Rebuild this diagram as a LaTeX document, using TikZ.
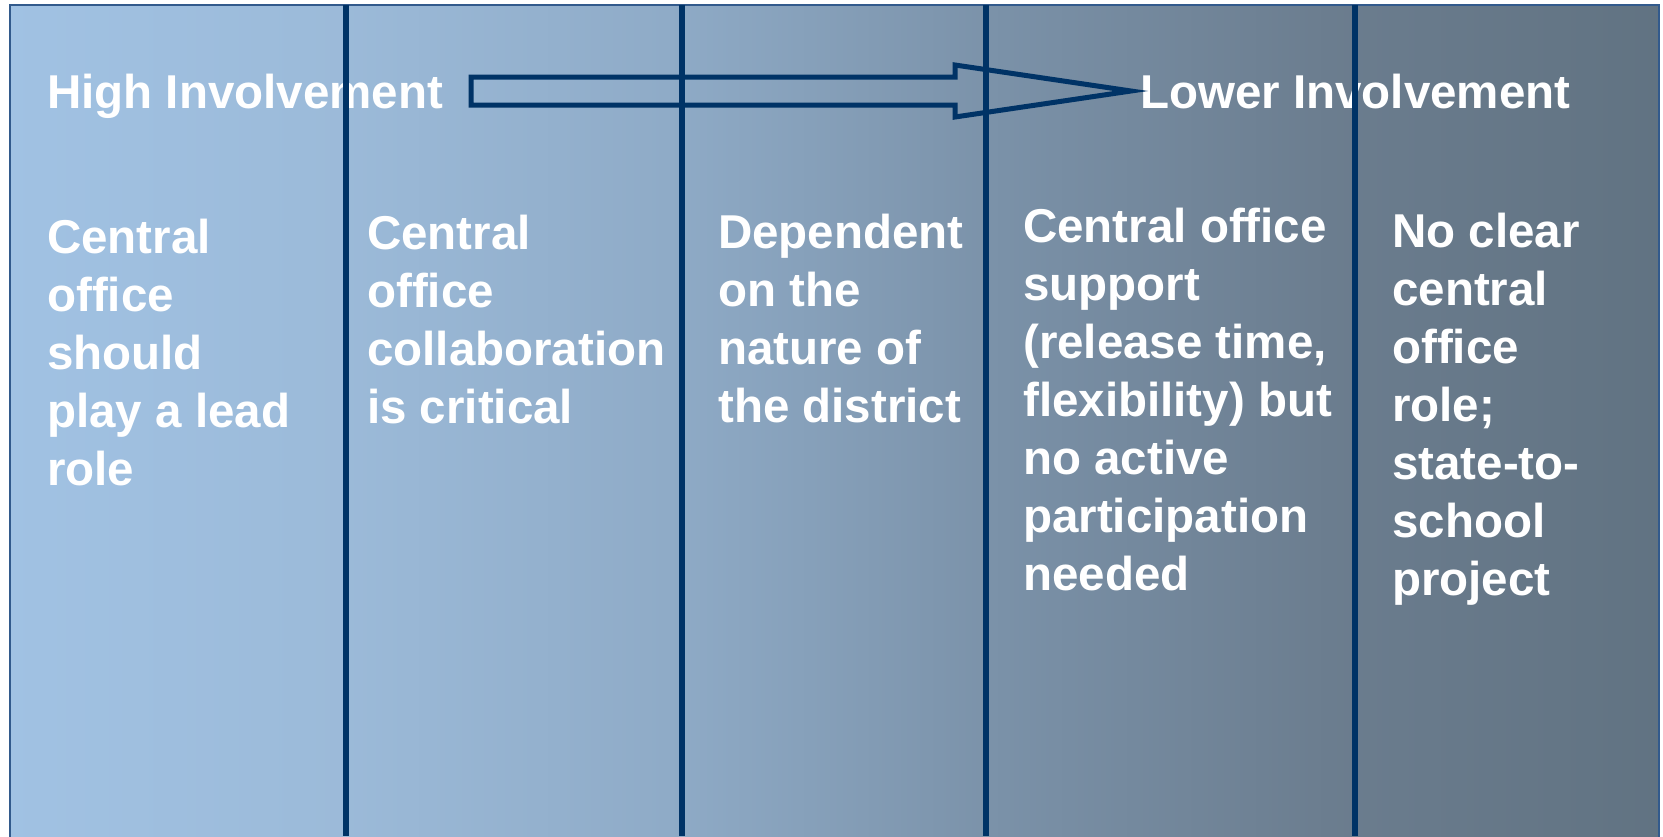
\documentclass[tikz,border=0pt]{standalone}
\usepackage{fontspec}
\setmainfont{Liberation Sans}
\definecolor{navy}{RGB}{0,51,102}
\definecolor{frame}{RGB}{50,90,140}
\pgfdeclarehorizontalshading{panelbg}{100bp}{rgb(0bp)=(0.63,0.76,0.89); rgb(25bp)=(0.63,0.76,0.89); rgb(35bp)=(0.61,0.73,0.85); rgb(45bp)=(0.56,0.67,0.78); rgb(55bp)=(0.48,0.57,0.66); rgb(65bp)=(0.42,0.49,0.56); rgb(75bp)=(0.38,0.45,0.51); rgb(100bp)=(0.38,0.45,0.51)}
\tikzset{
  coltext/.style={anchor=base west, inner sep=0pt, align=left, text=white,
    font=\fontsize{47.5}{58}\selectfont\bfseries},
  divider/.style={draw=navy, line width=6pt},
  bigarrow/.style={draw=navy, line width=5pt, line join=miter},
}
\begin{document}
\begin{tikzpicture}[x=1pt,y=-1pt]
\useasboundingbox (0,0) rectangle (1663,836);
\begin{scope}
\clip (0,0) rectangle (1663,836);
\shade[shading=panelbg] (10,5) rectangle (1659,846);
\draw[frame, line width=2pt] (10,5) rectangle (1659,846);
\end{scope}
% headings
\node[coltext] (high) at (47,108) {High Involvement};
\node[coltext] (low) at (1140,108) {Lower Involvement};
% columns (anchor = baseline of the last line)
\node[coltext] (c1) at (47,485) {Central\\office\\should\\play a lead\\role};
\node[coltext] (c2) at (367,423) {Central\\office\\collaboration\\is critical};
\node[coltext] (c3) at (718,422) {Dependent\\on the\\nature of\\the district};
\node[coltext] (c4) at (1023,590) {Central office\\support\\(release time,\\flexibility) but\\no active\\participation\\needed};
\node[coltext] (c5) at (1392,595) {No clear\\central\\office\\role;\\state-to-\\school\\project};
% dividers
\coordinate (d1t) at (346,5); \coordinate (d1b) at (346,836);
\coordinate (d2t) at (682,5); \coordinate (d2b) at (682,836);
\coordinate (d3t) at (986,5); \coordinate (d3b) at (986,836);
\coordinate (d4t) at (1355,5); \coordinate (d4b) at (1355,836);
\draw[divider] (d1t) -- (d1b);
\draw[divider] (d2t) -- (d2b);
\draw[divider] (d3t) -- (d3b);
\draw[divider] (d4t) -- (d4b);
% block arrow
\draw[bigarrow] (471,77) -- (955,77) -- (955,65) -- (1131,91) -- (955,117) -- (955,105) -- (471,105) -- cycle;
\end{tikzpicture}
\end{document}
